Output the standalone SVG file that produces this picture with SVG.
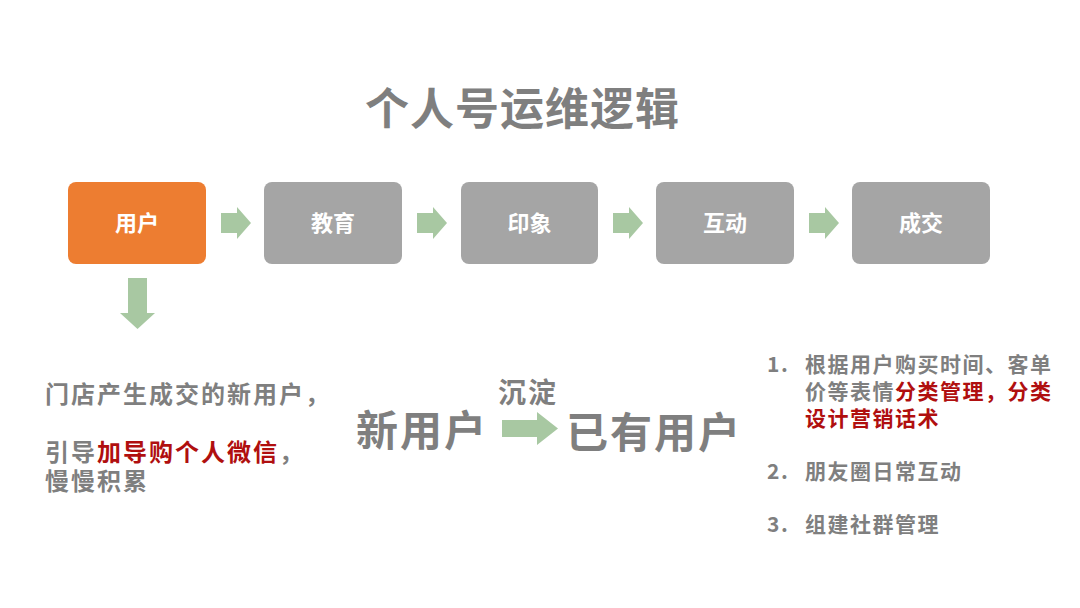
<svg xmlns="http://www.w3.org/2000/svg" width="1080" height="608" viewBox="0 0 1080 608">
<style>
text{font-family:"Noto Sans CJK SC","Noto Sans",sans-serif;font-weight:700}
.box{fill:#a5a5a5}
.orange{fill:#ed7d31}
.bt{fill:#ffffff;font-size:22px;text-anchor:middle}
.g{fill:#7f7f7f}
.r{fill:#b00f0f}
.arr{fill:#a8c8a2}
.lt{font-size:24px;letter-spacing:2px}
.rt{font-size:21px;letter-spacing:1.5px}
.mid{font-size:42px;letter-spacing:2px}
</style>
<rect width="1080" height="608" fill="#ffffff"/>
<g id="title"><text x="365" y="125" class="g" style="font-size:44px;letter-spacing:1px">个人号运维逻辑</text></g>
<g id="n1"><rect x="68" y="182" width="138" height="82" rx="8" class="orange"/><text x="137" y="231" class="bt">用户</text></g>
<g id="n2"><rect x="264" y="182" width="138" height="82" rx="8" class="box"/><text x="333" y="231" class="bt">教育</text></g>
<g id="n3"><rect x="461" y="182" width="137" height="82" rx="8" class="box"/><text x="529.5" y="231" class="bt">印象</text></g>
<g id="n4"><rect x="656" y="182" width="138" height="82" rx="8" class="box"/><text x="725" y="231" class="bt">互动</text></g>
<g id="n5"><rect x="852" y="182" width="138" height="82" rx="8" class="box"/><text x="921" y="231" class="bt">成交</text></g>
<g id="connectors">
<polygon class="arr" points="221,213 237,213 237,207 251,223 237,239 237,233 221,233"/>
<polygon class="arr" points="417,213 433,213 433,207 447,223 433,239 433,233 417,233"/>
<polygon class="arr" points="613,213 629,213 629,207 643,223 629,239 629,233 613,233"/>
<polygon class="arr" points="809,213 825,213 825,207 839,223 825,239 825,233 809,233"/>
<polygon class="arr" points="128,278 147,278 147,313 155,313 137.5,329 120,313 128,313"/>
<polygon class="arr" points="502,420 537,420 537,412 558,428.5 537,445 537,437 502,437"/>
</g>
<g id="left-text">
<text x="45" y="403" class="g lt">门店产生成交的新用户，</text>
<text x="45" y="461" class="g lt">引导</text>
<text x="97" y="461" class="r lt">加导购个人微信</text>
<text x="279" y="461" class="g lt">，</text>
<text x="45" y="490" class="g lt">慢慢积累</text>
</g>
<g id="middle">
<text x="498" y="403" class="g" style="font-size:28px;letter-spacing:2px">沉淀</text>
<text x="356" y="446" class="g mid">新用户</text>
<text x="566" y="448" class="g mid">已有用户</text>
</g>
<g id="right-list">
<text x="767" y="372" class="g rt">1.</text>
<text x="805" y="372" class="g rt">根据用户购买时间、客单</text>
<text x="805" y="399" class="g rt">价等表情</text>
<text x="895" y="399" class="r rt">分类管理，分类</text>
<text x="805" y="426" class="r rt">设计营销话术</text>
<text x="767" y="479" class="g rt">2.</text>
<text x="805" y="479" class="g rt">朋友圈日常互动</text>
<text x="767" y="532" class="g rt">3.</text>
<text x="805" y="532" class="g rt">组建社群管理</text>
</g>
</svg>
